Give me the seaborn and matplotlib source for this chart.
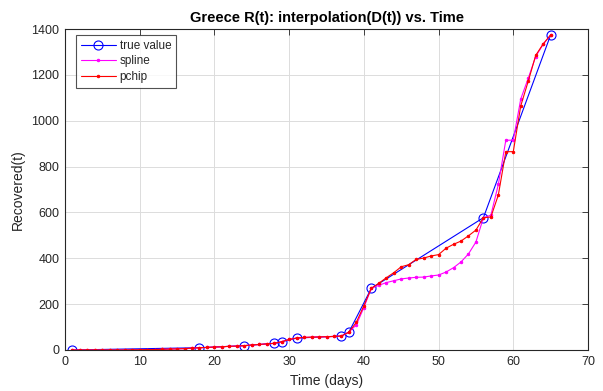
import numpy as np
import pandas as pd
import matplotlib
matplotlib.use("Agg")
import matplotlib.pyplot as plt
import seaborn as sns

# True values
true_days = [1, 18, 24, 28, 29, 31, 37, 38, 41, 56, 65]
true_vals = [0, 10, 19, 29, 36, 52, 61, 78, 269, 577, 1374]

# Interpolated (daily) values
days = list(range(1, 66))
pchip_vals = [0, 0, 0, 0, 0, 0, 0, 0, 1, 1, 2, 2, 3, 4, 5, 6, 8, 10,
              11, 13, 14, 16, 17, 19, 22, 24, 27, 29, 36, 46, 52,
              55, 56, 57, 58, 59, 61, 78, 121, 193,
              269, 291, 315, 337, 363, 372, 395, 401, 410, 416, 444, 461, 475, 498, 523, 577,
              580, 676, 865, 865, 1065, 1172, 1285, 1335, 1374]
spline_vals = [0, 0, 0, 0, 0, 0, 0, 0, 1, 1, 2, 2, 3, 4, 5, 6, 8, 10,
               11, 13, 14, 16, 17, 19, 22, 24, 27, 29, 36, 46, 52,
               55, 56, 57, 58, 59, 61, 78, 110, 185,
               269, 282, 294, 302, 310, 314, 317, 318, 323, 327, 340, 359, 384, 419, 471, 577,
               588, 722, 915, 915, 1095, 1185, 1280, 1333, 1374]

x_ticks = [0, 10, 20, 30, 40, 50, 60, 70]
y_ticks = [0, 200, 400, 600, 800, 1000, 1200, 1400]

sns.set_style("white")
plt.rcParams['font.family'] = ['Liberation Sans', 'DejaVu Sans']

fig = plt.figure(figsize=(6.03, 3.91), dpi=100)
ax = fig.add_axes([65/603, 1-350/391, (588-65)/603, (350-29)/391])

df_true = pd.DataFrame({"t": true_days, "v": true_vals})
df_sp = pd.DataFrame({"t": days, "v": spline_vals})
df_pc = pd.DataFrame({"t": days, "v": pchip_vals})

sns.lineplot(data=df_true, x="t", y="v", ax=ax, color=(0, 0, 1), lw=0.8,
             marker="o", markersize=6.5, markerfacecolor="none",
             markeredgecolor=(0, 0, 1), markeredgewidth=0.8,
             sort=False, estimator=None, label="true value")
sns.lineplot(data=df_sp, x="t", y="v", ax=ax, color=(1, 0, 1), lw=0.8,
             marker=".", markersize=3.5, markeredgecolor=(1, 0, 1),
             sort=False, estimator=None, label="spline")
sns.lineplot(data=df_pc, x="t", y="v", ax=ax, color=(1, 0, 0), lw=0.8,
             marker=".", markersize=3.5, markeredgecolor=(1, 0, 0),
             sort=False, estimator=None, label="pchip")

ax.set_xlim(0, 70)
ax.set_ylim(0, 1400)
ax.set_xticks(x_ticks)
ax.set_yticks(y_ticks)
ax.set_xticklabels([str(t) for t in x_ticks])
ax.set_yticklabels([str(t) for t in y_ticks])
ax.grid(True, color="#dcdcdc", lw=0.7)
ax.set_axisbelow(True)
for s in ax.spines.values():
    s.set_color("#262626")
    s.set_linewidth(0.8)
ax.tick_params(axis="both", labelsize=9, colors="#262626", direction="in",
               length=4, width=0.6, top=True, right=True, pad=4)
ax.tick_params(axis="both", labelcolor="#262626")

ax.set_xlabel("Time (days)", fontsize=10, color="#262626", labelpad=5)
ax.set_ylabel("Recovered(t)", fontsize=10, color="#262626", labelpad=5)
ax.set_title("Greece R(t): interpolation(D(t)) vs. Time", fontsize=10.5,
             fontweight="bold", color="#000000", pad=5)

leg = ax.legend(loc="upper left", bbox_to_anchor=(0.021, 0.981), borderaxespad=0,
                fontsize=8.5, frameon=True, fancybox=False, handlelength=3.0,
                handletextpad=0.3, labelspacing=0.3, borderpad=0.4)
leg.get_frame().set_edgecolor("#262626")
leg.get_frame().set_linewidth(0.8)

fig.savefig("out.png", dpi=100)
